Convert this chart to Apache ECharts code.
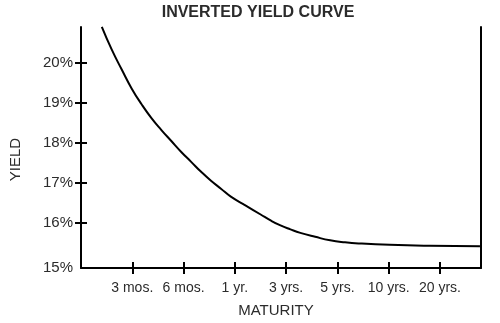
<!DOCTYPE html>
<html>
<head>
<meta charset="utf-8">
<script src="https://cdn.jsdelivr.net/npm/echarts@6/dist/echarts.min.js"></script>
<style>html,body{margin:0;padding:0;background:#fff}#c{width:500px;height:323px}</style>
</head>
<body>
<div id="c"></div>
<script>
var categories = ['3 mos.', '6 mos.', '1 yr.', '3 yrs.', '5 yrs.', '10 yrs.', '20 yrs.'];
var categoryPositions = [1, 2, 3, 4, 5, 6, 7];
var yTickValues = [15, 16, 17, 18, 19, 20];
var yTickLabels = ['15%', '16%', '17%', '18%', '19%', '20%'];
var curveX = [0.406, 0.600, 0.794, 0.987, 1.181, 1.374, 1.568, 1.761, 1.955, 2.148, 2.342, 2.535, 2.729, 2.922,
              3.213, 3.503, 3.697, 3.890, 4.084, 4.277, 4.567, 4.858, 5.148, 5.438, 6.019, 6.793, 7.780];
var curveY = [20.894, 20.323, 19.826, 19.354, 18.957, 18.609, 18.311, 18.037, 17.764, 17.516, 17.267, 17.043, 16.845, 16.646,
              16.422, 16.199, 16.050, 15.925, 15.826, 15.739, 15.640, 15.553, 15.503, 15.473, 15.439, 15.416, 15.404];

var yMin = 14.86, yMax = 20.89, xMin = 0, xMax = 7.8;
var txt = '#2b2b2b';
var font = 'Liberation Sans, Arial, sans-serif';
var points = curveX.map(function (x, i) { return [x, curveY[i]]; });
var yLabelVals = yTickValues.map(function (v) { return v === 15 ? yMin : v; });

var chart = echarts.init(document.getElementById('c'), null, {renderer: 'canvas'});
chart.setOption({
  animation: false,
  title: {
    text: 'INVERTED YIELD CURVE', left: 253, top: 0, textAlign: 'center',
    textStyle: {fontSize: 16, fontWeight: 'bold', color: txt, fontFamily: font}
  },
  grid: {left: 79, right: 19, top: 27, bottom: 53},
  xAxis: [{
    type: 'value', min: xMin, max: xMax,
    name: 'MATURITY', nameLocation: 'middle', nameGap: 35,
    nameTextStyle: {fontSize: 15, color: txt, fontFamily: font, padding: [0, 10, 0, 0]},
    splitLine: {show: false},
    axisLine: {show: true, lineStyle: {color: '#000', width: 2}},
    axisTick: {show: true, length: 6, customValues: categoryPositions, lineStyle: {color: '#000', width: 2}},
    axisLabel: {
      customValues: categoryPositions, margin: 13, fontSize: 14, color: txt, fontFamily: font,
      formatter: function (v) { return categories[categoryPositions.indexOf(Math.round(v))] || ''; }
    }
  }, {
    type: 'value', min: xMin, max: xMax, position: 'bottom',
    splitLine: {show: false},
    axisLine: {show: false},
    axisTick: {show: true, inside: true, length: 6, customValues: categoryPositions, lineStyle: {color: '#000', width: 2}},
    axisLabel: {show: false}
  }],
  yAxis: [{
    type: 'value', min: yMin, max: yMax,
    name: 'YIELD', nameLocation: 'middle', nameGap: 58, nameRotate: 90,
    nameTextStyle: {fontSize: 15, color: txt, fontFamily: font, padding: [0, 24, 0, 0]},
    splitLine: {show: false},
    axisLine: {show: true, lineStyle: {color: '#000', width: 2}},
    axisTick: {show: true, length: 6, customValues: yTickValues.slice(1), lineStyle: {color: '#000', width: 2}},
    axisLabel: {
      customValues: yLabelVals, margin: 8, fontSize: 15, color: txt, fontFamily: font,
      formatter: function (v) {
        var i = yLabelVals.indexOf(v);
        return i >= 0 ? yTickLabels[i] : '';
      }
    }
  }, {
    type: 'value', min: yMin, max: yMax, position: 'left',
    splitLine: {show: false},
    axisLine: {show: false},
    axisTick: {show: true, inside: true, length: 6, customValues: yTickValues.slice(1), lineStyle: {color: '#000', width: 2}},
    axisLabel: {show: false}
  }, {
    type: 'value', min: yMin, max: yMax, position: 'right',
    splitLine: {show: false},
    axisLine: {show: true, lineStyle: {color: '#000', width: 2}},
    axisTick: {show: false},
    axisLabel: {show: false}
  }],
  series: [{
    type: 'line', data: points, smooth: 0.5, showSymbol: false,
    xAxisIndex: 0, yAxisIndex: 0,
    lineStyle: {color: '#000', width: 2}
  }]
});
</script>
</body>
</html>
